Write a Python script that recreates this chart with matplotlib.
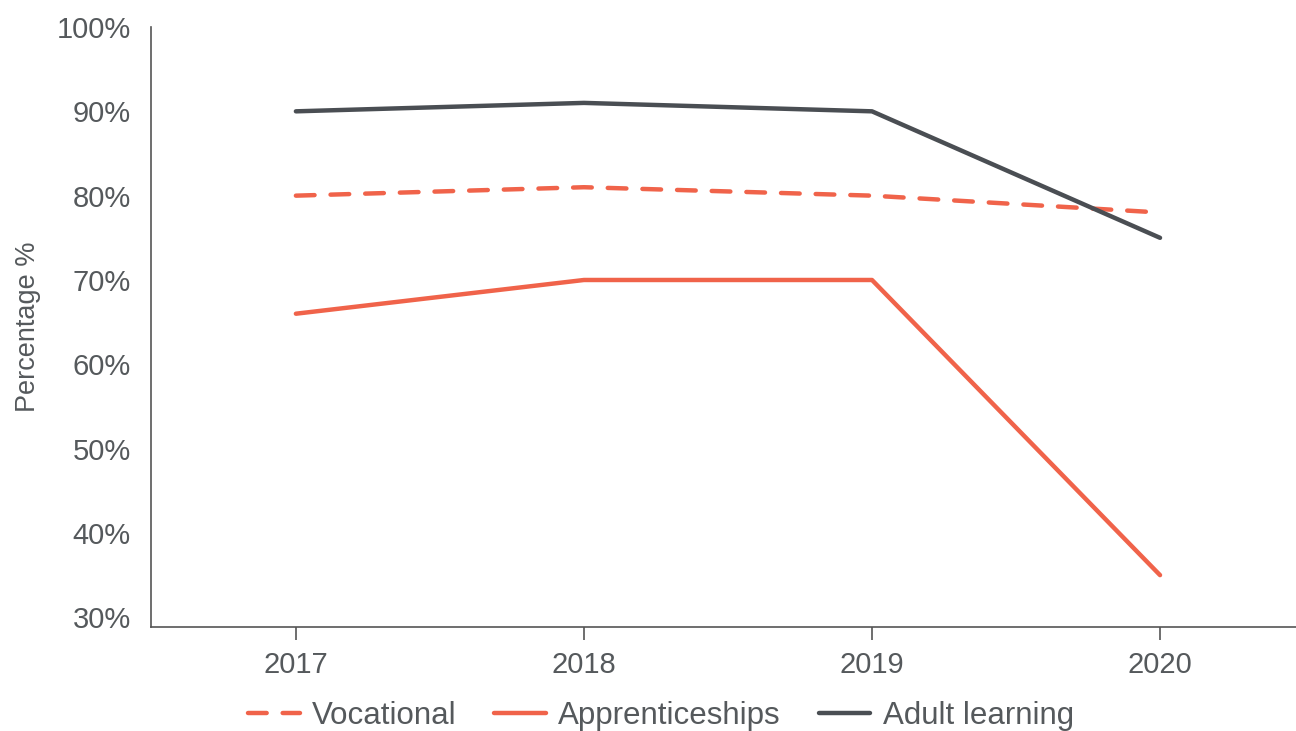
import matplotlib
matplotlib.use("Agg")
import matplotlib.pyplot as plt
from matplotlib.ticker import FuncFormatter

plt.rcParams['font.family'] = ['Liberation Sans', 'DejaVu Sans']

years = ['2017', '2018', '2019', '2020']
vocational = [80, 81, 80, 78]
apprenticeships = [66, 70, 70, 35]
adult_learning = [90, 91, 90, 75]

orange = '#F0634A'
dark = '#4A4E53'
text_col = '#55595C'

fig = plt.figure(figsize=(12.96, 7.31), dpi=100)
ax = fig.add_axes([151 / 1296, 1 - 627 / 731, 1 - 151 / 1296, 600 / 731])

x = list(range(len(years)))
ax.plot(x, vocational, color=orange, lw=3.2, ls=(0, (4.2, 3.6)),
        dash_capstyle='round', solid_capstyle='round', label='Vocational')
ax.plot(x, apprenticeships, color=orange, lw=3.2,
        solid_capstyle='round', label='Apprenticeships')
ax.plot(x, adult_learning, color=dark, lw=3.2,
        solid_capstyle='round', label='Adult learning')

ax.set_xlim(-0.503, 3.472)
ax.set_ylim(28.85, 100)
ax.set_xticks(x)
ax.set_xticklabels(years)
ax.set_yticks([30, 40, 50, 60, 70, 80, 90, 100])
ax.yaxis.set_major_formatter(FuncFormatter(lambda v, p: '%d%%' % v))

for s in ['top', 'right']:
    ax.spines[s].set_visible(False)
for s in ['left', 'bottom']:
    ax.spines[s].set_color('#555555')
    ax.spines[s].set_linewidth(1.2)

ax.tick_params(axis='x', length=9, width=1.2, color='#555555', pad=8,
               labelsize=21, labelcolor=text_col)
ax.tick_params(axis='y', length=0, pad=14.5, labelsize=21, labelcolor=text_col)

ax.set_ylabel('Percentage %', fontsize=19.5, color=text_col)
ax.yaxis.set_label_coords(-0.096, 0.5)

fig.legend(loc='center', bbox_to_anchor=(0.51, 1 - 716 / 731), ncol=3,
           frameon=False, fontsize=22.5, labelcolor=text_col,
           handlelength=1.65, columnspacing=1.2, handletextpad=0.4)

fig.savefig('out.png', dpi=100)
